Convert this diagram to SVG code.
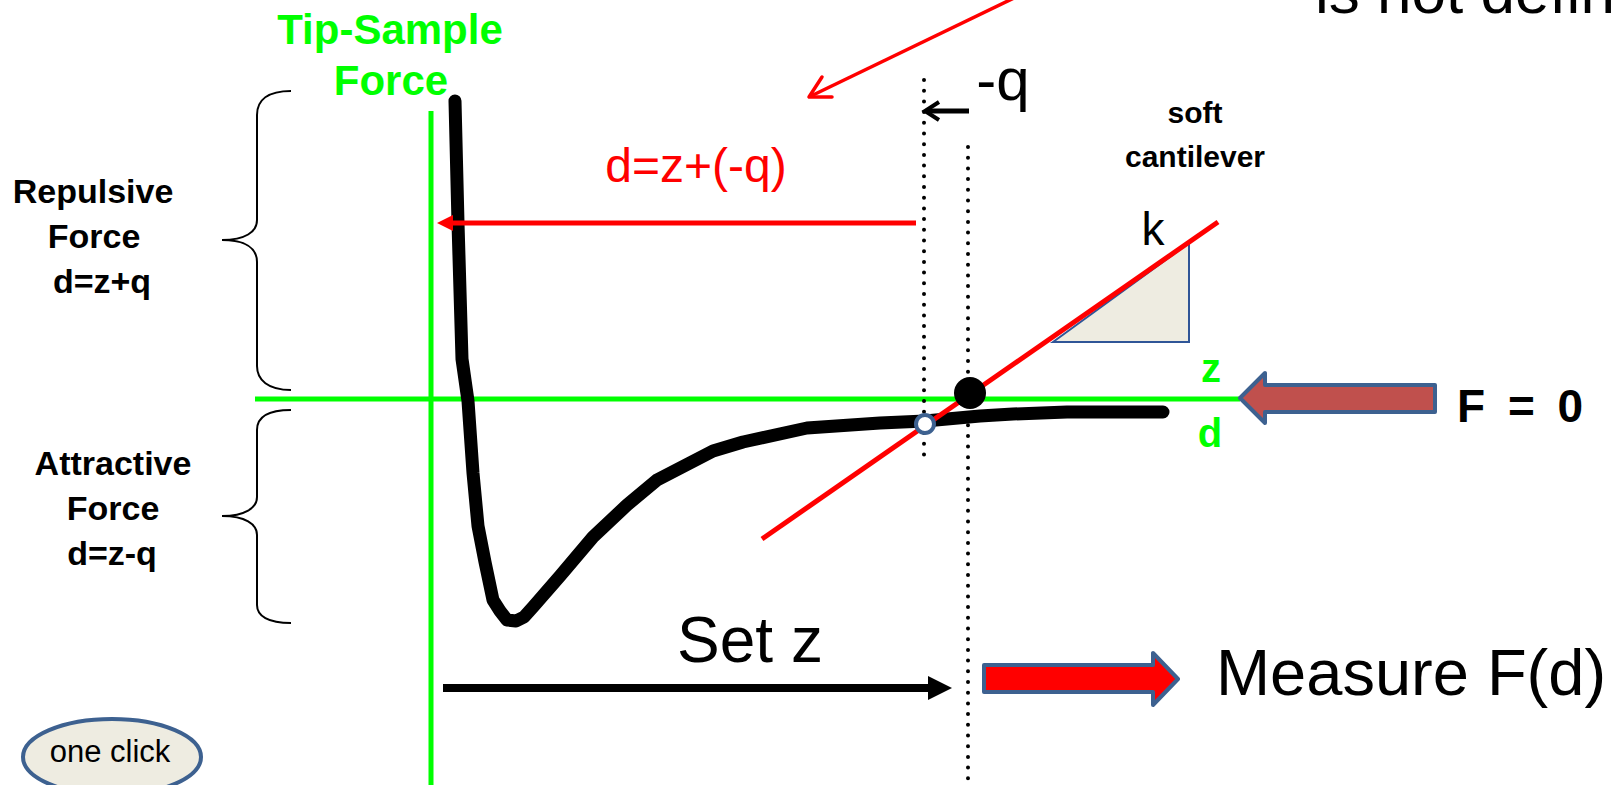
<svg xmlns="http://www.w3.org/2000/svg" width="1614" height="785" viewBox="0 0 1614 785">
<style>
.t{font-family:"Liberation Sans",Arial,sans-serif;}
.b{font-weight:bold;}
.grn{fill:#00FF00;}
.blk{fill:#000;}
.red{fill:#FF0000;}
.gl{stroke:#00FF00;stroke-width:5;fill:none;}
.dot{stroke:#000;stroke-width:4;stroke-linecap:round;stroke-dasharray:0 10.7;fill:none;}
.brace{stroke:#000;stroke-width:2;fill:none;}
.blue{stroke:#3D6190;stroke-width:4;stroke-linejoin:round;}
</style>
<rect width="1614" height="785" fill="#fff"/>

<g id="clipped-title">
<text class="t" x="1315" y="13" font-size="62" fill="#000">is not defined</text>
</g>

<g id="axes">
<line class="gl" x1="431" y1="111" x2="431" y2="785"/>
<line class="gl" x1="255" y1="399" x2="1240" y2="399"/>
</g>

<g id="axis-label">
<text class="t b grn" x="390" y="44" font-size="42" text-anchor="middle">Tip-Sample</text>
<text class="t b grn" x="391" y="95" font-size="42" text-anchor="middle">Force</text>
</g>

<g id="repulsive">
<path class="brace" d="M291,91 C268,91 257,100 257,115 L257,220 C257,232 245,240 222,240 C245,240 257,248 257,262 L257,366 C257,380 268,390 291,390"/>
<text class="t b blk" x="93" y="203" font-size="34" text-anchor="middle">Repulsive</text>
<text class="t b blk" x="94" y="248" font-size="34" text-anchor="middle">Force</text>
<text class="t b blk" x="102" y="293" font-size="34" text-anchor="middle">d=z+q</text>
</g>

<g id="attractive">
<path class="brace" d="M291,410 C268,410 257,417 257,430 L257,497 C257,508 245,516 222,516 C245,516 257,524 257,535 L257,605 C257,616 268,623 291,623"/>
<text class="t b blk" x="113" y="475" font-size="34" text-anchor="middle">Attractive</text>
<text class="t b blk" x="113" y="520" font-size="34" text-anchor="middle">Force</text>
<text class="t b blk" x="112" y="565" font-size="34" text-anchor="middle">d=z-q</text>
</g>

<g id="force-curve">
<polyline fill="none" stroke="#000" stroke-width="13" stroke-linejoin="round" stroke-linecap="round" points="455,101 458,223 462,359 468,401 473,473 478,526 485,562 493,600 500,611 507,620 516,621 524,617 533,607 560,576 593,537 627,505 657,480 713,451 743,442 807,428 880,423 925,421 980,416 1013,414 1067,412 1163,412"/>
</g>

<g id="dotted-lines">
<line class="dot" x1="924" y1="80" x2="924" y2="462"/>
<line class="dot" x1="968" y1="147" x2="968" y2="782"/>
</g>

<g id="connectors">
<line x1="1014" y1="-2" x2="811" y2="96" stroke="#FF0000" stroke-width="3.5"/>
<polyline points="822,77 809,97 832,97" fill="none" stroke="#FF0000" stroke-width="3.5" stroke-linecap="round" stroke-linejoin="round"/>
<line x1="916" y1="223" x2="450" y2="223" stroke="#FF0000" stroke-width="5"/>
<polygon points="437,223 453,215 453,231" fill="#FF0000"/>
<line x1="969" y1="111" x2="927" y2="111" stroke="#000" stroke-width="5"/>
<polyline points="939,102 925,111 939,120" fill="none" stroke="#000" stroke-width="4"/>
<line x1="443" y1="688" x2="930" y2="688" stroke="#000" stroke-width="8"/>
<polygon points="952,688 928,676 928,700" fill="#000"/>
</g>

<g id="d-label">
<text class="t red" x="696" y="182" font-size="48" text-anchor="middle">d=z+(-q)</text>
</g>

<g id="q-label">
<text class="t blk" x="1003" y="100" font-size="60" text-anchor="middle">-q</text>
</g>

<g id="cantilever">
<polygon points="1053,342 1189,243 1189,342" fill="#EEECE1" stroke="#2F5597" stroke-width="2"/>
<line x1="762" y1="539" x2="1218" y2="222" stroke="#FF0000" stroke-width="5"/>
<text class="t b blk" x="1195" y="123" font-size="30" text-anchor="middle">soft</text>
<text class="t b blk" x="1195" y="167" font-size="30" text-anchor="middle">cantilever</text>
<text class="t blk" x="1153" y="245" font-size="46" text-anchor="middle">k</text>
</g>

<g id="points">
<circle cx="970" cy="393" r="16" fill="#000"/>
<circle cx="925" cy="424" r="9" fill="#fff" stroke="#3D6190" stroke-width="4"/>
</g>

<g id="zd-labels">
<text class="t b grn" x="1211" y="382" font-size="40" text-anchor="middle">z</text>
<text class="t b grn" x="1210" y="447" font-size="40" text-anchor="middle">d</text>
</g>

<g id="f0-arrow">
<polygon class="blue" points="1240,398 1265,373 1265,385 1435,385 1435,412 1265,412 1265,423" fill="#C0504D"/>
<text class="t b blk" x="1457" y="422" font-size="46" word-spacing="10">F = 0</text>
</g>

<g id="set-z">
<text class="t blk" x="750" y="662" font-size="64" text-anchor="middle">Set z</text>
</g>

<g id="measure">
<polygon class="blue" points="1178,679 1153,653 1153,665 984,665 984,692 1153,692 1153,705" fill="#FF0000"/>
<text class="t blk" x="1411" y="695" font-size="65" text-anchor="middle">Measure F(d)</text>
</g>

<g id="one-click">
<ellipse cx="112" cy="757" rx="89" ry="38" fill="#EEECE1" stroke="#3D6190" stroke-width="4"/>
<text class="t blk" x="110" y="762" font-size="31" text-anchor="middle">one click</text>
</g>
</svg>
